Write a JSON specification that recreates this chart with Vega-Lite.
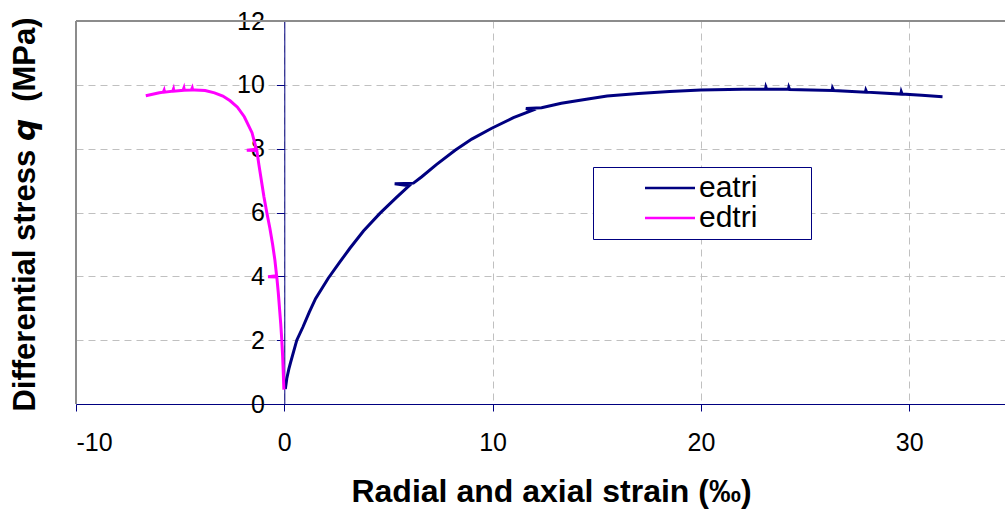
{
  "$schema": "https://vega.github.io/schema/vega-lite/v6.json",
  "width": 929,
  "height": 383,
  "autosize": "none",
  "padding": {"left": 76, "top": 21, "right": 0, "bottom": 105},
  "background": "white",
  "config": {"view": {"stroke": null}, "font": "Liberation Sans"},
  "layer": [
    {
      "data": {"values": [
        {"series": "eatri", "x": 0.05, "q": 0.47},
        {"series": "eatri", "x": 0.12, "q": 0.8},
        {"series": "eatri", "x": 0.22, "q": 1.1},
        {"series": "eatri", "x": 0.3, "q": 1.3},
        {"series": "eatri", "x": 0.45, "q": 1.65},
        {"series": "eatri", "x": 0.6, "q": 2.0},
        {"series": "eatri", "x": 0.9, "q": 2.42},
        {"series": "eatri", "x": 1.2, "q": 2.88},
        {"series": "eatri", "x": 1.5, "q": 3.3},
        {"series": "eatri", "x": 2.11, "q": 3.94},
        {"series": "eatri", "x": 2.67, "q": 4.45},
        {"series": "eatri", "x": 3.15, "q": 4.88},
        {"series": "eatri", "x": 3.8, "q": 5.42},
        {"series": "eatri", "x": 4.6, "q": 5.98},
        {"series": "eatri", "x": 5.4, "q": 6.48},
        {"series": "eatri", "x": 6.0, "q": 6.84},
        {"series": "eatri", "x": 5.3, "q": 6.9},
        {"series": "eatri", "x": 6.2, "q": 6.92},
        {"series": "eatri", "x": 6.6, "q": 7.12},
        {"series": "eatri", "x": 7.3, "q": 7.5},
        {"series": "eatri", "x": 8.2, "q": 7.95},
        {"series": "eatri", "x": 9.0, "q": 8.3},
        {"series": "eatri", "x": 9.96, "q": 8.64},
        {"series": "eatri", "x": 11.0, "q": 8.97},
        {"series": "eatri", "x": 11.9, "q": 9.2},
        {"series": "eatri", "x": 11.6, "q": 9.26},
        {"series": "eatri", "x": 12.35, "q": 9.28},
        {"series": "eatri", "x": 13.3, "q": 9.42},
        {"series": "eatri", "x": 14.5, "q": 9.55},
        {"series": "eatri", "x": 15.5, "q": 9.65},
        {"series": "eatri", "x": 17.0, "q": 9.73},
        {"series": "eatri", "x": 18.5, "q": 9.79},
        {"series": "eatri", "x": 20.0, "q": 9.84},
        {"series": "eatri", "x": 22.0, "q": 9.86},
        {"series": "eatri", "x": 23.1, "q": 9.86},
        {"series": "eatri", "x": 23.12, "q": 9.93},
        {"series": "eatri", "x": 23.16, "q": 9.86},
        {"series": "eatri", "x": 24.2, "q": 9.86},
        {"series": "eatri", "x": 24.22, "q": 9.92},
        {"series": "eatri", "x": 24.26, "q": 9.85},
        {"series": "eatri", "x": 26.3, "q": 9.82},
        {"series": "eatri", "x": 26.32, "q": 9.9},
        {"series": "eatri", "x": 26.38, "q": 9.82},
        {"series": "eatri", "x": 27.9, "q": 9.77},
        {"series": "eatri", "x": 27.92, "q": 9.83},
        {"series": "eatri", "x": 27.96, "q": 9.77},
        {"series": "eatri", "x": 29.6, "q": 9.71},
        {"series": "eatri", "x": 29.62, "q": 9.78},
        {"series": "eatri", "x": 29.66, "q": 9.71},
        {"series": "eatri", "x": 30.6, "q": 9.67},
        {"series": "eatri", "x": 31.6, "q": 9.63},
        {"series": "edtri", "x": -0.02, "q": 0.45},
        {"series": "edtri", "x": -0.05, "q": 1.0},
        {"series": "edtri", "x": -0.08, "q": 1.5},
        {"series": "edtri", "x": -0.12, "q": 2.0},
        {"series": "edtri", "x": -0.17, "q": 2.5},
        {"series": "edtri", "x": -0.23, "q": 3.0},
        {"series": "edtri", "x": -0.29, "q": 3.5},
        {"series": "edtri", "x": -0.36, "q": 3.98},
        {"series": "edtri", "x": -0.78, "q": 3.99},
        {"series": "edtri", "x": -0.37, "q": 4.02},
        {"series": "edtri", "x": -0.45, "q": 4.5},
        {"series": "edtri", "x": -0.56, "q": 5.0},
        {"series": "edtri", "x": -0.69, "q": 5.5},
        {"series": "edtri", "x": -0.84, "q": 6.0},
        {"series": "edtri", "x": -0.98, "q": 6.5},
        {"series": "edtri", "x": -1.1, "q": 7.0},
        {"series": "edtri", "x": -1.22, "q": 7.5},
        {"series": "edtri", "x": -1.32, "q": 7.94},
        {"series": "edtri", "x": -1.8, "q": 7.95},
        {"series": "edtri", "x": -1.34, "q": 7.98},
        {"series": "edtri", "x": -1.55, "q": 8.5},
        {"series": "edtri", "x": -1.92, "q": 9.0},
        {"series": "edtri", "x": -2.25, "q": 9.3},
        {"series": "edtri", "x": -2.6, "q": 9.5},
        {"series": "edtri", "x": -2.95, "q": 9.65},
        {"series": "edtri", "x": -3.35, "q": 9.75},
        {"series": "edtri", "x": -3.8, "q": 9.82},
        {"series": "edtri", "x": -4.3, "q": 9.84},
        {"series": "edtri", "x": -4.4, "q": 9.84},
        {"series": "edtri", "x": -4.42, "q": 9.9},
        {"series": "edtri", "x": -4.46, "q": 9.84},
        {"series": "edtri", "x": -4.8, "q": 9.83},
        {"series": "edtri", "x": -4.82, "q": 9.9},
        {"series": "edtri", "x": -4.86, "q": 9.83},
        {"series": "edtri", "x": -5.3, "q": 9.8},
        {"series": "edtri", "x": -5.32, "q": 9.87},
        {"series": "edtri", "x": -5.36, "q": 9.8},
        {"series": "edtri", "x": -5.75, "q": 9.77},
        {"series": "edtri", "x": -5.77, "q": 9.83},
        {"series": "edtri", "x": -5.81, "q": 9.77},
        {"series": "edtri", "x": -6.0, "q": 9.75},
        {"series": "edtri", "x": -6.65, "q": 9.66}
      ]},
      "mark": {"type": "line", "strokeWidth": 3},
      "encoding": {
        "x": {
          "field": "x", "type": "quantitative",
          "scale": {"domain": [-10, 34.6], "nice": false, "zero": false},
          "axis": {
            "title": "Radial and axial strain (‰)",
            "values": [-10, 0, 10, 20, 30],
            "labelExpr": "'' + datum.value",
            "domainColor": "#000080", "domainWidth": 1,
            "tickColor": "#000080", "tickSize": 7, "tickWidth": 1,
            "labelFont": "Liberation Sans", "labelFontSize": 25, "labelColor": "black", "labelPadding": 19,
            "grid": true, "gridColor": "#c0c0c0", "gridDash": [7, 5], "gridWidth": 1,
            "titleFont": "Liberation Sans", "titleFontSize": 32, "titleFontWeight": "bold", "titleColor": "black",
            "titleX": 475, "titleY": 97, "titleBaseline": "alphabetic", "titleAlign": "center"
          }
        },
        "y": {
          "field": "q", "type": "quantitative",
          "scale": {"domain": [0, 12], "nice": false},
          "axis": {
            "title": "Differential stress 𝙦\u00a0 (MPa)",
            "values": [0, 2, 4, 6, 8, 10, 12],
            "offset": -208.3,
            "domainColor": "#000080", "domainWidth": 1,
            "tickColor": "#000080", "tickSize": 8, "tickWidth": 1,
            "labelFont": "Liberation Sans", "labelFontSize": 25, "labelColor": "black", "labelPadding": 12,
            "grid": true, "gridColor": "#c0c0c0", "gridDash": [7, 5], "gridWidth": 1,
            "titleFont": "Liberation Sans", "titleFontSize": 31, "titleFontWeight": "bold", "titleColor": "black",
            "titleX": -250, "titleY": 193, "titleBaseline": "alphabetic", "titleAlign": "center", "titleAngle": 270
          }
        },
        "color": {
          "field": "series", "type": "nominal",
          "scale": {"domain": ["eatri", "edtri"], "range": ["#000080", "#FF00FF"]},
          "legend": {
            "orient": "none", "legendX": 517, "legendY": 146,
            "title": null,
            "strokeColor": "#000080", "fillColor": "white", "padding": 6,
            "symbolType": "M-2,0L2,0", "symbolSize": 625, "symbolStrokeWidth": 2.5,
            "symbolOffset": 56, "labelOffset": 14,
            "labelFont": "Liberation Sans", "labelFontSize": 30, "labelColor": "black",
            "labelExpr": "datum.label + '   \u2800'",
            "rowPadding": 0
          }
        },
        "order": {"value": null}
      }
    },
    {
      "data": {"values": [{"x": -10}]},
      "mark": {"type": "rule", "color": "#8c8c8c", "strokeWidth": 2},
      "encoding": {"x": {"field": "x", "type": "quantitative", "scale": {"domain": [-10, 34.6], "nice": false, "zero": false}}}
    },
    {
      "data": {"values": [{"q": 12}]},
      "mark": {"type": "rule", "color": "#8c8c8c", "strokeWidth": 2},
      "encoding": {"y": {"field": "q", "type": "quantitative", "scale": {"domain": [0, 12], "nice": false}}}
    }
  ]
}
